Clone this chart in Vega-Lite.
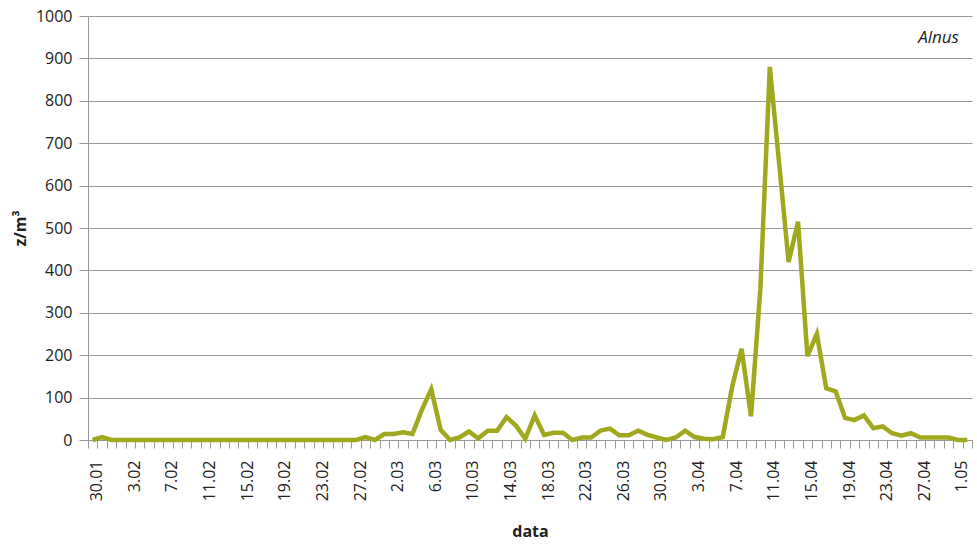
{
  "$schema": "https://vega.github.io/schema/vega-lite/v6.json",
  "width": 889,
  "height": 424,
  "autosize": {"type": "none"},
  "padding": {"left": 88, "top": 16, "right": 0, "bottom": 104},
  "background": "white",
  "config": {"view": {"stroke": null}, "font": "Open Sans"},
  "data": {"values": [
    {"date": "30.01", "value": 0}, {"date": "31.01", "value": 7},
    {"date": "1.02", "value": 0}, {"date": "2.02", "value": 0}, {"date": "3.02", "value": 0}, {"date": "4.02", "value": 0},
    {"date": "5.02", "value": 0}, {"date": "6.02", "value": 0}, {"date": "7.02", "value": 0}, {"date": "8.02", "value": 0},
    {"date": "9.02", "value": 0}, {"date": "10.02", "value": 0}, {"date": "11.02", "value": 0}, {"date": "12.02", "value": 0},
    {"date": "13.02", "value": 0}, {"date": "14.02", "value": 0}, {"date": "15.02", "value": 0}, {"date": "16.02", "value": 0},
    {"date": "17.02", "value": 0}, {"date": "18.02", "value": 0}, {"date": "19.02", "value": 0}, {"date": "20.02", "value": 0},
    {"date": "21.02", "value": 0}, {"date": "22.02", "value": 0}, {"date": "23.02", "value": 0}, {"date": "24.02", "value": 0},
    {"date": "25.02", "value": 0}, {"date": "26.02", "value": 0}, {"date": "27.02", "value": 0}, {"date": "28.02", "value": 7},
    {"date": "29.02", "value": 0},
    {"date": "1.03", "value": 14}, {"date": "2.03", "value": 14}, {"date": "3.03", "value": 18}, {"date": "4.03", "value": 14},
    {"date": "5.03", "value": 71}, {"date": "6.03", "value": 120}, {"date": "7.03", "value": 24}, {"date": "8.03", "value": 0},
    {"date": "9.03", "value": 6}, {"date": "10.03", "value": 20}, {"date": "11.03", "value": 4}, {"date": "12.03", "value": 22},
    {"date": "13.03", "value": 22}, {"date": "14.03", "value": 54}, {"date": "15.03", "value": 34}, {"date": "16.03", "value": 3},
    {"date": "17.03", "value": 58}, {"date": "18.03", "value": 12}, {"date": "19.03", "value": 17}, {"date": "20.03", "value": 17},
    {"date": "21.03", "value": 0}, {"date": "22.03", "value": 6}, {"date": "23.03", "value": 6}, {"date": "24.03", "value": 22},
    {"date": "25.03", "value": 27}, {"date": "26.03", "value": 11}, {"date": "27.03", "value": 11}, {"date": "28.03", "value": 22},
    {"date": "29.03", "value": 12}, {"date": "30.03", "value": 6}, {"date": "31.03", "value": 0},
    {"date": "1.04", "value": 6}, {"date": "2.04", "value": 22}, {"date": "3.04", "value": 7}, {"date": "4.04", "value": 3},
    {"date": "5.04", "value": 2}, {"date": "6.04", "value": 7}, {"date": "7.04", "value": 126}, {"date": "8.04", "value": 215},
    {"date": "9.04", "value": 56}, {"date": "10.04", "value": 358}, {"date": "11.04", "value": 880}, {"date": "12.04", "value": 650},
    {"date": "13.04", "value": 420}, {"date": "14.04", "value": 515}, {"date": "15.04", "value": 198}, {"date": "16.04", "value": 250},
    {"date": "17.04", "value": 122}, {"date": "18.04", "value": 115}, {"date": "19.04", "value": 52}, {"date": "20.04", "value": 47},
    {"date": "21.04", "value": 58}, {"date": "22.04", "value": 28}, {"date": "23.04", "value": 32}, {"date": "24.04", "value": 16},
    {"date": "25.04", "value": 10}, {"date": "26.04", "value": 16}, {"date": "27.04", "value": 6}, {"date": "28.04", "value": 6},
    {"date": "29.04", "value": 6}, {"date": "30.04", "value": 6},
    {"date": "1.05", "value": 0}, {"date": "2.05", "value": 0}
  ]},
  "layer": [
    {
      "mark": {"type": "line", "color": "#a0a81e", "strokeWidth": 4.5},
      "encoding": {
        "x": {
          "field": "date", "type": "ordinal", "sort": null, "bandPosition": 0.5,
          "scale": {"type": "band", "range": [0, 884], "paddingInner": 0, "paddingOuter": 0},
          "axis": {
            "title": "data", "titleFontSize": 16, "titleFontWeight": "bold", "titleColor": "#222222", "titlePadding": 23,
            "labelAngle": -90, "labelFontSize": 16, "labelColor": "#222222", "labelPadding": 12, "labelOffset": 4,
            "labelOverlap": false,
            "labelExpr": "indexof(['30.01','3.02','7.02','11.02','15.02','19.02','23.02','27.02','2.03','6.03','10.03','14.03','18.03','22.03','26.03','30.03','3.04','7.04','11.04','15.04','19.04','23.04','27.04','1.05'], datum.value) >= 0 ? datum.value : ''",
            "tickBand": "extent", "ticks": true, "tickSize": 8, "tickColor": "#999999", "domainColor": "#999999", "grid": false
          }
        },
        "y": {
          "field": "value", "type": "quantitative",
          "scale": {"domain": [0, 1000], "nice": false},
          "axis": {
            "title": "z/m³", "titleFontSize": 16, "titleFontWeight": "bold", "titleColor": "#222222", "titlePadding": 7,
            "values": [0, 100, 200, 300, 400, 500, 600, 700, 800, 900, 1000], "format": "d",
            "labelFontSize": 16, "labelColor": "#222222", "labelPadding": 7,
            "tickSize": 9, "tickColor": "#999999", "gridColor": "#999999", "domainColor": "#999999", "grid": true
          }
        }
      }
    },
    {
      "data": {"values": [{"date": "1.05", "value": 948, "label": "Alnus"}]},
      "mark": {"type": "text", "fontStyle": "italic", "fontSize": 17, "align": "right", "baseline": "middle", "color": "#222222", "dx": 1},
      "encoding": {
        "x": {"field": "date", "type": "ordinal", "sort": null, "bandPosition": 0.5},
        "y": {"field": "value", "type": "quantitative"},
        "text": {"field": "label"}
      }
    }
  ]
}
